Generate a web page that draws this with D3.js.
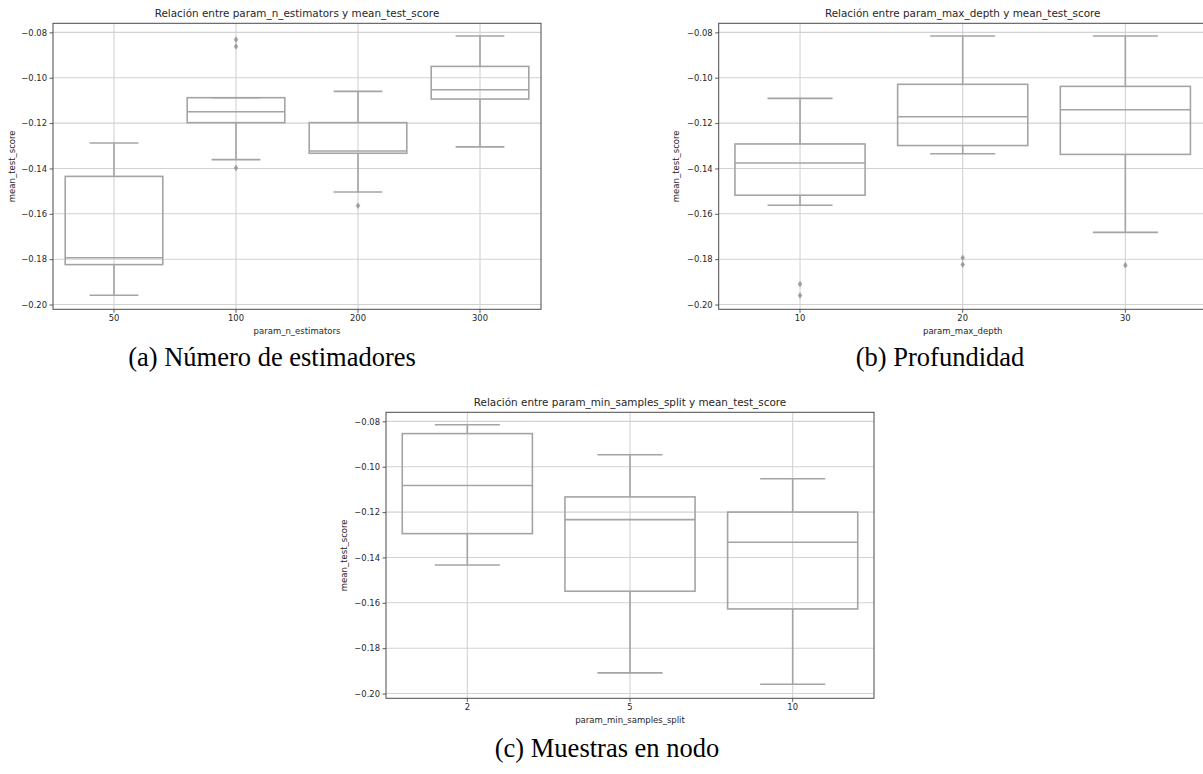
<!DOCTYPE html>
<html>
<head>
<meta charset="utf-8">
<script src="https://cdn.jsdelivr.net/npm/d3@7"></script>
<style>
  html, body { margin: 0; padding: 0; background: #fff; }
  svg { display: block; }
</style>
</head>
<body>
<svg id="fig" width="1203" height="774"></svg>
<script>
// ---- Grid-search results: mean_test_score summarised per hyper-parameter ----

// (a) n_estimators
const estimatorsCategories   = ["50", "100", "200", "300"];
const estimatorsWhiskerLow   = [-0.1959, -0.1361, -0.1504, -0.1305];
const estimatorsQ1           = [-0.1824, -0.1198, -0.1333, -0.1094];
const estimatorsMedian       = [-0.1794, -0.1150, -0.1323, -0.1053];
const estimatorsQ3           = [-0.1435, -0.1088, -0.1198, -0.0950];
const estimatorsWhiskerHigh  = [-0.1288, -0.1088, -0.1060, -0.0816];
const estimatorsOutliers     = [[], [-0.0832, -0.0862, -0.1398], [-0.1564], []];

// (b) max_depth
const depthCategories   = ["10", "20", "30"];
const depthWhiskerLow   = [-0.1562, -0.1335, -0.1682];
const depthQ1           = [-0.1518, -0.1299, -0.1338];
const depthMedian       = [-0.1376, -0.1172, -0.1141];
const depthQ3           = [-0.1292, -0.1029, -0.1038];
const depthWhiskerHigh  = [-0.1091, -0.0816, -0.0816];
const depthOutliers     = [[-0.1910, -0.1960], [-0.1794, -0.1824], [-0.1827]];

// (c) min_samples_split
const splitCategories   = ["2", "5", "10"];
const splitWhiskerLow   = [-0.1433, -0.1909, -0.1959];
const splitQ1           = [-0.1295, -0.1549, -0.1627];
const splitMedian       = [-0.1083, -0.1233, -0.1333];
const splitQ3           = [-0.0854, -0.1133, -0.1200];
const splitWhiskerHigh  = [-0.0815, -0.0947, -0.1053];
const splitOutliers     = [[], [], []];

// Shared y axis
const yTickValues = [-0.08, -0.10, -0.12, -0.14, -0.16, -0.18, -0.20];
const yDomain = [-0.2021, -0.0760];

const svg = d3.select("#fig");
svg.append("rect").attr("width", 1203).attr("height", 774).attr("fill", "#fff");

const BOX_STROKE = "#a4a4a4";
const GRID_STROKE = "#d2d2d2";
const SPINE = "#4a4a4a";
const SANS = "'DejaVu Sans', sans-serif";

function buildRows(cats, lo, q1, med, q3, hi, out) {
  return cats.map((c, i) => ({
    cat: c, lo: lo[i], q1: q1[i], med: med[i], q3: q3[i], hi: hi[i], out: out[i]
  }));
}

function drawPanel(opts) {
  const { x0, y0, w, h, rows, title, xLabel, yLabelX, caption, captionX, captionY } = opts;

  const x = d3.scaleBand().domain(rows.map(r => r.cat)).range([x0, x0 + w]).paddingInner(0).paddingOuter(0);
  const y = d3.scaleLinear().domain(yDomain).range([y0 + h, y0]);
  const bw = x.bandwidth();
  const boxW = bw * 0.8;
  const capW = bw * 0.4;

  const g = svg.append("g");

  // clip the plotting area
  const clipId = "clip" + Math.round(x0);
  g.append("clipPath").attr("id", clipId)
    .append("rect").attr("x", x0).attr("y", y0).attr("width", w).attr("height", h);

  const plot = g.append("g").attr("clip-path", `url(#${clipId})`);

  // grid lines
  plot.append("g").selectAll("line.hg").data(yTickValues).join("line")
    .attr("x1", x0).attr("x2", x0 + w)
    .attr("y1", d => y(d)).attr("y2", d => y(d))
    .attr("stroke", GRID_STROKE).attr("stroke-width", 1.1);
  plot.append("g").selectAll("line.vg").data(rows).join("line")
    .attr("x1", d => x(d.cat) + bw / 2).attr("x2", d => x(d.cat) + bw / 2)
    .attr("y1", y0).attr("y2", y0 + h)
    .attr("stroke", GRID_STROKE).attr("stroke-width", 1.1);

  const boxes = plot.append("g").selectAll("g").data(rows).join("g")
    .attr("transform", d => `translate(${x(d.cat) + bw / 2},0)`);

  // whiskers
  boxes.append("line").attr("x1", 0).attr("x2", 0)
    .attr("y1", d => y(d.q3)).attr("y2", d => y(d.hi))
    .attr("stroke", BOX_STROKE).attr("stroke-width", 1.6);
  boxes.append("line").attr("x1", 0).attr("x2", 0)
    .attr("y1", d => y(d.q1)).attr("y2", d => y(d.lo))
    .attr("stroke", BOX_STROKE).attr("stroke-width", 1.6);
  // caps
  boxes.append("line").attr("x1", -capW / 2).attr("x2", capW / 2)
    .attr("y1", d => y(d.hi)).attr("y2", d => y(d.hi))
    .attr("stroke", BOX_STROKE).attr("stroke-width", 1.6);
  boxes.append("line").attr("x1", -capW / 2).attr("x2", capW / 2)
    .attr("y1", d => y(d.lo)).attr("y2", d => y(d.lo))
    .attr("stroke", BOX_STROKE).attr("stroke-width", 1.6);
  // box
  boxes.append("rect")
    .attr("x", -boxW / 2).attr("width", boxW)
    .attr("y", d => y(d.q3)).attr("height", d => y(d.q1) - y(d.q3))
    .attr("fill", "none").attr("stroke", BOX_STROKE).attr("stroke-width", 1.6);
  // median
  boxes.append("line").attr("x1", -boxW / 2).attr("x2", boxW / 2)
    .attr("y1", d => y(d.med)).attr("y2", d => y(d.med))
    .attr("stroke", BOX_STROKE).attr("stroke-width", 1.6);
  // fliers (thin diamonds)
  const diamond = "M0,-2.8L1.8,0L0,2.8L-1.8,0Z";
  boxes.selectAll("path.flier").data(d => d.out).join("path")
    .attr("d", diamond)
    .attr("transform", d => `translate(0,${y(d)})`)
    .attr("fill", "#9a9a9a").attr("stroke", "#9a9a9a").attr("stroke-width", 0.6);

  // axes
  const yAxis = d3.axisLeft(y).tickValues(yTickValues).tickFormat(d3.format(".2f")).tickSize(3.5).tickPadding(2.5);
  const ya = g.append("g").attr("transform", `translate(${x0},0)`).call(yAxis);
  const xAxis = d3.axisBottom(x).tickSize(3.5).tickPadding(2.5);
  const xa = g.append("g").attr("transform", `translate(0,${y0 + h})`).call(xAxis);
  [ya, xa].forEach(a => {
    a.select(".domain").remove();
    a.selectAll(".tick line").attr("stroke", SPINE).attr("stroke-width", 0.9);
    a.selectAll(".tick text").attr("fill", "#262626")
      .style("font-family", SANS).style("font-size", "8.4px");
  });

  // frame
  g.append("rect").attr("x", x0).attr("y", y0).attr("width", w).attr("height", h)
    .attr("fill", "none").attr("stroke", SPINE).attr("stroke-width", 1);

  // title and labels
  g.append("text").attr("x", x0 + w / 2).attr("y", y0 - 6)
    .attr("text-anchor", "middle").attr("fill", "#262626")
    .style("font-family", SANS).style("font-size", "10.4px").text(title);
  g.append("text").attr("x", x0 + w / 2).attr("y", y0 + h + 24.5)
    .attr("text-anchor", "middle").attr("fill", "#262626")
    .style("font-family", SANS).style("font-size", "8.5px").text(xLabel);
  g.append("text")
    .attr("transform", `translate(${yLabelX},${y0 + h / 2}) rotate(-90)`)
    .attr("text-anchor", "middle").attr("dy", "0.35em").attr("fill", "#262626")
    .style("font-family", SANS).style("font-size", "8.5px").text("mean_test_score");

  // sub-figure caption
  svg.append("text").attr("x", captionX).attr("y", captionY)
    .attr("text-anchor", "middle").attr("fill", "#000")
    .style("font-family", "'Liberation Serif', 'Times New Roman', serif")
    .style("font-size", "26.5px").text(caption);
}

drawPanel({
  x0: 53, y0: 23.3, w: 488, h: 286,
  rows: buildRows(estimatorsCategories, estimatorsWhiskerLow, estimatorsQ1, estimatorsMedian,
                  estimatorsQ3, estimatorsWhiskerHigh, estimatorsOutliers),
  title: "Relación entre param_n_estimators y mean_test_score",
  xLabel: "param_n_estimators", yLabelX: 11.6,
  caption: "(a) Número de estimadores", captionX: 272, captionY: 366
});

drawPanel({
  x0: 718.7, y0: 23.3, w: 488, h: 286,
  rows: buildRows(depthCategories, depthWhiskerLow, depthQ1, depthMedian,
                  depthQ3, depthWhiskerHigh, depthOutliers),
  title: "Relación entre param_max_depth y mean_test_score",
  xLabel: "param_max_depth", yLabelX: 676,
  caption: "(b) Profundidad", captionX: 940, captionY: 366
});

drawPanel({
  x0: 386, y0: 412.3, w: 488, h: 286,
  rows: buildRows(splitCategories, splitWhiskerLow, splitQ1, splitMedian,
                  splitQ3, splitWhiskerHigh, splitOutliers),
  title: "Relación entre param_min_samples_split y mean_test_score",
  xLabel: "param_min_samples_split", yLabelX: 344,
  caption: "(c) Muestras en nodo", captionX: 607, captionY: 757
});
</script>
</body>
</html>
